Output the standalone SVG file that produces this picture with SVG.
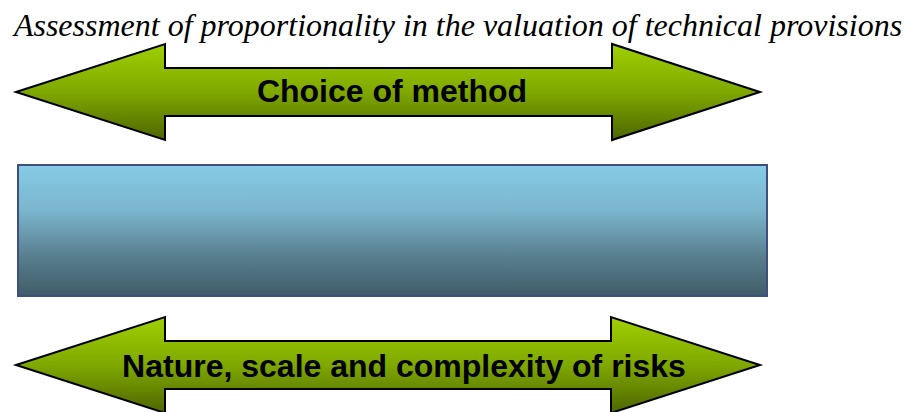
<svg xmlns="http://www.w3.org/2000/svg" width="907" height="412" viewBox="0 0 907 412">
<defs>
<linearGradient id="g1" x1="0" y1="0" x2="0" y2="1">
<stop offset="0" stop-color="#9fd000"/>
<stop offset="0.5" stop-color="#7fa800"/>
<stop offset="1" stop-color="#4d6600"/>
</linearGradient>
<linearGradient id="b1" x1="0" y1="0" x2="0" y2="1">
<stop offset="0" stop-color="#87cbe6"/>
<stop offset="0.35" stop-color="#7ab5cc"/>
<stop offset="0.7" stop-color="#587e8e"/>
<stop offset="1" stop-color="#405d68"/>
</linearGradient>
<style>
.arrow{fill:url(#g1);stroke:#000;stroke-width:2;stroke-linejoin:miter}
.lbl{font-family:"Liberation Sans",Arial,sans-serif;font-weight:bold;font-size:32px;fill:#000;text-anchor:middle}
</style>
</defs>
<text x="458" y="36" font-family="'Liberation Serif','Times New Roman',serif" font-style="italic" font-size="32" text-anchor="middle" fill="#000">Assessment of proportionality in the valuation of technical provisions</text>
<g id="top-arrow">
<polygon class="arrow" points="16,92 165,44 165,68 612,68 612,44 760,92 612,140 612,116 165,116 165,140"/>
<text class="lbl" x="392" y="102">Choice of method</text>
</g>
<g id="box">
<rect x="18" y="165" width="749" height="131" fill="url(#b1)" stroke="#3e4f80" stroke-width="2"/>
</g>
<g id="bottom-arrow">
<polygon class="arrow" points="16,365 165,317 165,341 611,341 611,317 760,365 611,413 611,389 165,389 165,413"/>
<text class="lbl" x="404" y="377">Nature, scale and complexity of risks</text>
</g>
<g id="connectors"></g>
</svg>
